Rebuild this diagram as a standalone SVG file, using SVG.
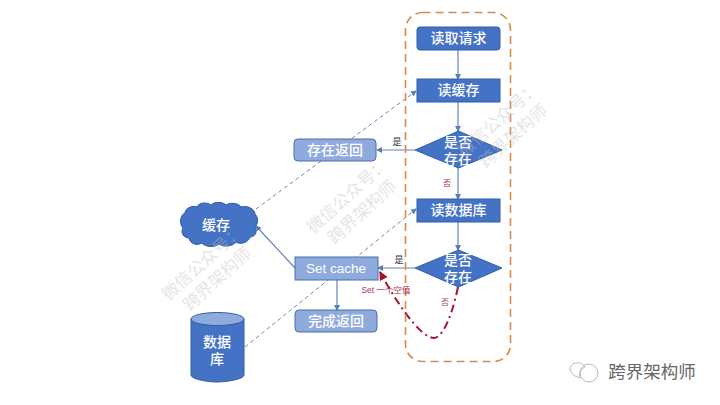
<svg xmlns="http://www.w3.org/2000/svg" width="720" height="405" viewBox="0 0 720 405">
<defs>
<marker id="a" markerWidth="6" markerHeight="6" refX="5" refY="3" orient="auto" markerUnits="userSpaceOnUse"><path d="M0 0L6 3L0 6Z" fill="#5a7db5"/></marker>
<marker id="r" markerWidth="9" markerHeight="9" refX="8" refY="4.500" orient="auto" markerUnits="userSpaceOnUse"><path d="M0 0L9 4.500L0 9Z" fill="#a5142a"/></marker>
</defs>
<style>
text{font-family:"Liberation Sans","Noto Sans CJK SC",sans-serif;text-anchor:middle}
.d{fill:#4472c4;stroke:#2f5fa8;stroke-width:1}
.l{fill:#8faadc;stroke:#4a6ea8;stroke-width:1}
.t{fill:#fff;font-size:14px;font-weight:500}
.c{fill:none;stroke:#6484b8;stroke-width:1.200;marker-end:url(#a)}
.s{fill:none;stroke:#6f8bb8;stroke-width:1;stroke-dasharray:4 3;marker-end:url(#a)}
.w{fill:#bdbdbd;fill-opacity:.42;font-size:17px}
</style>
<rect width="720" height="405" fill="#fff"/>
<g id="connectors">
<path class="s" d="M245 347L416 209"/>
<path class="s" d="M256 209L416 91"/>
<path class="c" d="M458 50V79"/>
<path class="c" d="M458 102V131"/>
<path class="c" d="M458 168V199"/>
<path class="c" d="M458 222V250"/>
<path class="c" d="M415 150H377"/>
<path class="c" d="M415 268H378"/>
<path class="c" d="M295 268L256 226"/>
<path class="c" d="M337 280V310"/>
<path fill="none" stroke="#a5142a" stroke-width="2" stroke-dasharray="8 4 2 4" marker-end="url(#r)" d="M458 287C450 325 440 338 434 338C420 338 395 300 380 272"/>
</g>
<g id="boundary"><rect x="405.500" y="12.500" width="105" height="349" rx="17" fill="none" stroke="#d98a4e" stroke-width="1.600" stroke-dasharray="8 5"/></g>
<g id="n1"><rect class="d" x="417" y="27" width="83" height="23" rx="3"/><text class="t" x="458.500" y="43">读取请求</text></g>
<g id="n2"><rect class="d" x="417" y="79" width="83" height="23"/><text class="t" x="458.500" y="95">读缓存</text></g>
<g id="n3"><path class="d" d="M415 150L458.500 131L502 150L458.500 168Z"/><text class="t"><tspan x="458" y="147">是否</tspan><tspan x="458" y="163.500">存在</tspan></text></g>
<g id="n4"><rect class="l" x="294" y="139" width="82" height="22" rx="4"/><text class="t" x="335" y="155">存在返回</text></g>
<g id="n5"><rect class="d" x="417" y="199" width="83" height="23"/><text class="t" x="458.500" y="215">读数据库</text></g>
<g id="n6"><path class="d" d="M415 268L458.500 250L502 268L458.500 287Z"/><text class="t"><tspan x="458" y="265">是否</tspan><tspan x="458" y="281.500">存在</tspan></text></g>
<g id="n7"><rect class="l" x="295" y="257" width="83" height="23"/><text class="t" x="336" y="273" style="font-size:13.500px;font-weight:400">Set cache</text></g>
<g id="n8"><rect class="l" x="295" y="310" width="82" height="22" rx="4"/><text class="t" x="336" y="326">完成返回</text></g>
<g id="cache"><path class="d" d="M185 213C185 208 193 205 197 207C199 202 207 202 211 205C215 201 223 202 226 205C230 202 239 203 241 207C247 205 255 209 255 214C259 218 258 224 255 227C258 232 255 237 250 237C248 243 240 245 236 242C232 247 223 247 219 244C214 248 205 247 202 243C197 246 190 244 189 238C184 238 180 233 183 228C179 224 180 215 185 213Z"/><text class="t" x="216" y="230">缓存</text></g>
<g id="db"><path class="d" d="M191 319V375C191 379 207 382 217 382C227 382 244 379 244 375V319Z"/><ellipse cx="217.500" cy="319" rx="26.500" ry="6.500" fill="#8faadc" stroke="#2f5fa8"/><text class="t"><tspan x="217" y="347">数据</tspan><tspan x="217" y="364">库</tspan></text></g>
<g id="labels">
<text x="397" y="145" font-size="9" fill="#333">是</text>
<text x="399" y="263" font-size="9" fill="#333">是</text>
<text x="447" y="186" font-size="8" fill="#b0324a">否</text>
<text x="445" y="305" font-size="8" fill="#a04a5a">否</text>
<text x="386" y="293" font-size="8.500" fill="#b0324a">Set 一个空值</text>
</g>
<g id="watermarks">
<g transform="translate(505 127) rotate(-42)"><text class="w" y="-4">微信公众号：</text><text class="w" y="18">跨界架构师</text></g>
<g transform="translate(354 203) rotate(-42)"><text class="w" y="-4">微信公众号：</text><text class="w" y="18">跨界架构师</text></g>
<g transform="translate(209 270) rotate(-42)"><text class="w" y="-4">微信公众号：</text><text class="w" y="18">跨界架构师</text></g>
</g>
<g id="brand">
<g fill="none" stroke="#aaa" stroke-width=".8"><path d="M571 366C574 361 583 362 585 367C580 369 579 375 580 378L575 376C571 373 569 370 571 366Z"/><circle cx="589" cy="373" r="9"/></g>
<text x="652" y="378" font-size="17.500" fill="#666">跨界架构师</text>
</g>
</svg>
